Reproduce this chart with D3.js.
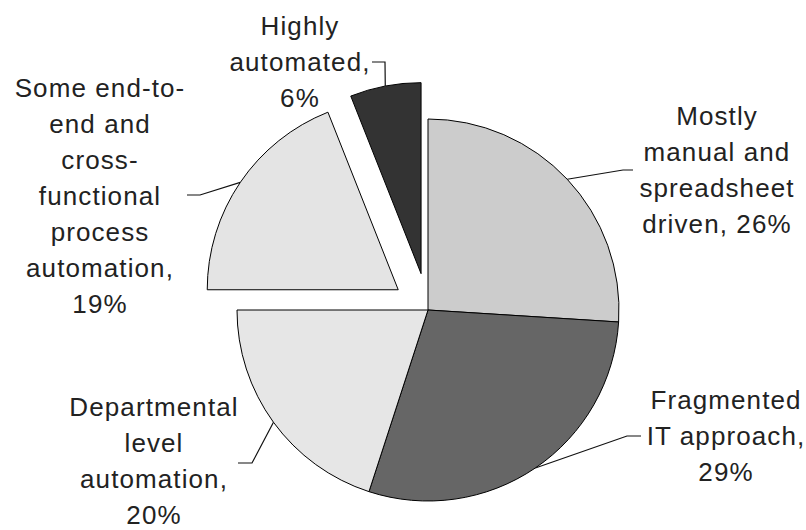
<!DOCTYPE html>
<html>
<head>
<meta charset="utf-8">
<script src="https://cdn.jsdelivr.net/npm/d3@7"></script>
<style>
  body { margin: 0; background: #fff; }
  svg text { font-family: "Liberation Sans", Arial, sans-serif; fill: #222; }
</style>
</head>
<body>
<svg id="chart" width="806" height="530"></svg>
<script>
// data
var categories = ['Mostly manual and spreadsheet driven', 'Fragmented IT approach', 'Departmental level automation', 'Some end-to-end and cross-functional process automation', 'Highly automated']
var values = [26, 29, 20, 19, 6]
// label text, broken in lines like the original
var labelLines = [
  ['Mostly', 'manual and', 'spreadsheet', 'driven, 26%'],
  ['Fragmented', 'IT approach,', '29%'],
  ['Departmental', 'level', 'automation,', '20%'],
  ['Some end-to-', 'end and', 'cross-', 'functional', 'process', 'automation,', '19%'],
  ['Highly', 'automated,', '6%']
]

// layout
var cx = 428, cy = 310, radius = 191
var explode = [0, 0, 0, 36, 37]
var fills = ['#cccccc', '#666666', '#e6e6e6', '#e4e4e4', '#333333']
var lineH = 36
// label center x / first baseline, and leader elbow + end
var labelPos = [
  {x: 717, y: 125, elbow: [623, 170], end: [633, 170]},
  {x: 726, y: 409, elbow: [627, 436], end: [641, 436]},
  {x: 154, y: 416, elbow: [252, 463], end: [238, 463]},
  {x: 100, y: 97, elbow: [200, 195], end: [187, 195]},
  {x: 300, y: 35, elbow: [385, 62], end: [372, 62]}
]

var svg = d3.select('#chart')

var pie = d3.pie().sort(null).value(function(d) { return d })
var arcs = pie(values)

var arc = d3.arc().innerRadius(0).outerRadius(radius)

// offset of exploded slices along mid angle
function shift(d, i) {
  var a = (d.startAngle + d.endAngle) / 2
  return [Math.sin(a) * explode[i], -Math.cos(a) * explode[i]]
}

var g = svg.append('g').attr('transform', 'translate(' + cx + ',' + cy + ')')

g.selectAll('path.slice')
  .data(arcs)
  .enter()
  .append('path')
  .attr('class', 'slice')
  .attr('d', arc)
  .attr('transform', function(d, i) {
    var s = shift(d, i)
    return 'translate(' + s[0] + ',' + s[1] + ')'
  })
  .attr('fill', function(d, i) { return fills[i] })
  .attr('stroke', '#000')
  .attr('stroke-width', 1)

// leader lines: from the arc at mid angle to the elbow, then a short tail
g.selectAll('path.leader')
  .data(arcs)
  .enter()
  .append('path')
  .attr('class', 'leader')
  .attr('d', function(d, i) {
    var a = (d.startAngle + d.endAngle) / 2
    var s = shift(d, i)
    var p0 = [Math.sin(a) * radius + s[0], -Math.cos(a) * radius + s[1]]
    var lp = labelPos[i]
    return d3.line()([p0, [lp.elbow[0] - cx, lp.elbow[1] - cy], [lp.end[0] - cx, lp.end[1] - cy]])
  })
  .attr('fill', 'none')
  .attr('stroke', '#111')
  .attr('stroke-width', 1.2)

// labels
var labels = svg.selectAll('text.label')
  .data(arcs)
  .enter()
  .append('text')
  .attr('class', 'label')
  .attr('text-anchor', 'middle')
  .attr('font-size', 26)
  .attr('letter-spacing', 1.1)
  .attr('x', function(d, i) { return labelPos[i].x })
  .attr('y', function(d, i) { return labelPos[i].y })

labels.selectAll('tspan')
  .data(function(d, i) { return labelLines[i] })
  .enter()
  .append('tspan')
  .attr('x', function() { return this.parentNode.getAttribute('x') })
  .attr('dy', function(d, j) { return j === 0 ? 0 : lineH })
  .text(function(d) { return d })
</script>
</body>
</html>
